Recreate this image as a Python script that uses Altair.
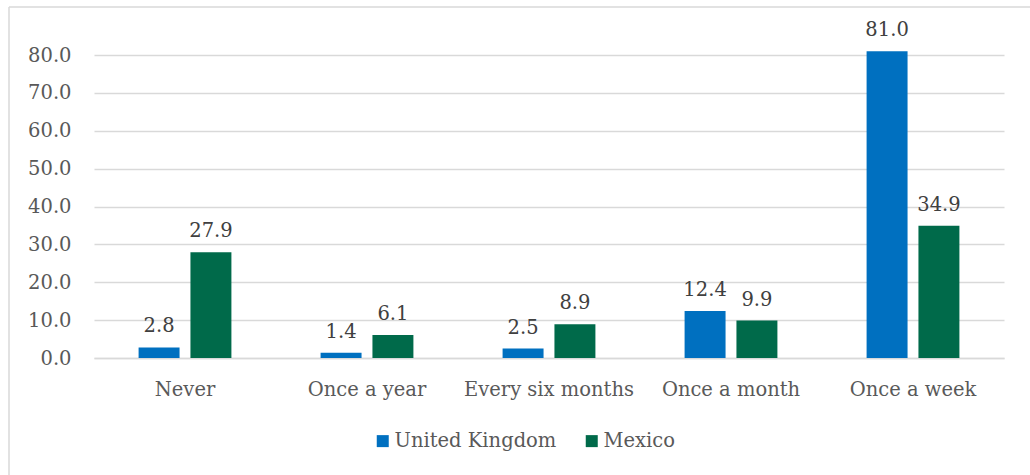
import altair as alt
import pandas as pd

# Survey frequencies (%) by country
categories = ["Never", "Once a year", "Every six months", "Once a month", "Once a week"]
uk_values = [2.8, 1.4, 2.5, 12.4, 81.0]
mexico_values = [27.9, 6.1, 8.9, 9.9, 34.9]
series = ["United Kingdom", "Mexico"]
colors = ["#0070C0", "#006A4A"]
y_ticks = [0, 10, 20, 30, 40, 50, 60, 70, 80]

rows = []
for cat, uk, mx in zip(categories, uk_values, mexico_values):
    rows.append({"category": cat, "country": "United Kingdom", "value": uk})
    rows.append({"category": cat, "country": "Mexico", "value": mx})
df = pd.DataFrame(rows)

FONT = "DejaVu Serif"
FS = 19.5

x_enc = alt.X(
    "category:N",
    sort=categories,
    title=None,
    scale=alt.Scale(paddingInner=0, paddingOuter=0),
    axis=alt.Axis(labelAngle=0, labelFont=FONT, labelFontSize=FS, labelColor="#595959",
                  labelPadding=22, ticks=False, domain=True, domainColor="#D9D9D9",
                  domainWidth=1.3, grid=False),
)
xoff = alt.XOffset("country:N", sort=series,
                   scale=alt.Scale(paddingInner=0.21, paddingOuter=0.86))
y_enc = alt.Y(
    "value:Q",
    title=None,
    scale=alt.Scale(domain=[0, 80], nice=False),
    axis=alt.Axis(values=y_ticks, format=".1f",
                  labelFont=FONT, labelFontSize=FS, labelColor="#595959",
                  labelPadding=23, labelOverlap=False, ticks=False, domain=False,
                  grid=True, gridColor="#D9D9D9", gridWidth=1.3),
)
color_enc = alt.Color(
    "country:N", sort=series,
    scale=alt.Scale(domain=series, range=colors),
    legend=alt.Legend(title=None, orient="none", direction="horizontal",
                      legendX=279, legendY=376, symbolType="square", symbolSize=144,
                      symbolStrokeWidth=0, labelFont=FONT, labelFontSize=FS,
                      labelColor="#595959", columnPadding=25, labelOffset=2,
                      labelLimit=400),
)

bars = alt.Chart(df).mark_bar().encode(x=x_enc, xOffset=xoff, y=y_enc, color=color_enc)

labels = alt.Chart(df).mark_text(
    baseline="bottom", dy=-11, font=FONT, fontSize=FS, color="#404040"
).encode(
    x=x_enc,
    xOffset=xoff,
    y=y_enc,
    text=alt.Text("value:Q", format=".1f"),
)

# Thin outer frame along the left and top edges of the chart area
frame_left = alt.Chart(pd.DataFrame({"k": [0]})).mark_rule(color="#D9D9D9", strokeWidth=1.5).encode(
    x=alt.value(-85), y=alt.value(-48), y2=alt.value(430)
)
frame_top = alt.Chart(pd.DataFrame({"k": [0]})).mark_rule(color="#D9D9D9", strokeWidth=1.5).encode(
    x=alt.value(-85), x2=alt.value(940), y=alt.value(-48)
)

chart = alt.layer(bars, labels, frame_left, frame_top).properties(
    width=910, height=303,
    autosize=alt.AutoSizeParams(type="none"),
    padding={"left": 94, "top": 55, "right": 26, "bottom": 117},
    background="white",
).configure_view(stroke=None)

chart.save("out.html", embed_options={"renderer": "svg", "actions": False})
